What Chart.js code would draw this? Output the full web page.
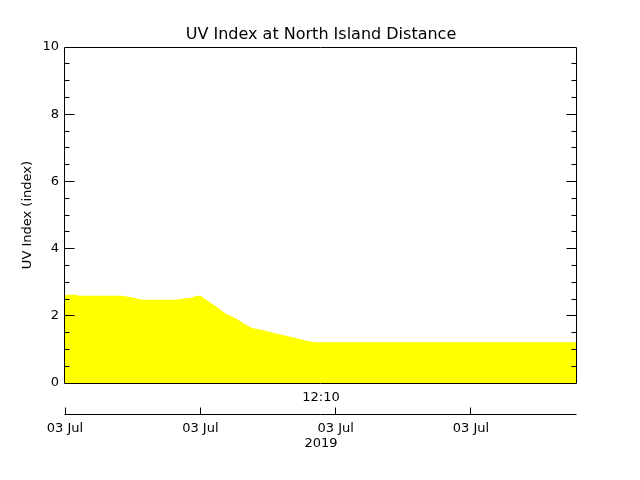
<!DOCTYPE html>
<html lang="en">
<head>
<meta charset="UTF-8">
<title>UV Index at North Island Distance</title>
<script src="https://cdn.jsdelivr.net/npm/chart.js@4.4.1/dist/chart.umd.min.js"></script>
<style>
  html, body { margin: 0; padding: 0; background: #fff; }
</style>
</head>
<body>
<canvas id="pizarra" width="640" height="480"></canvas>
<script>
// minutes after the first sample
const times = [0, 5, 6, 25, 28, 31, 34, 49, 52, 56, 58, 60, 62, 67, 71, 76, 80, 83, 88, 93, 99, 104, 108, 111, 227]
const uvIndex = [2.63, 2.63, 2.60, 2.60, 2.57, 2.53, 2.48, 2.48, 2.51, 2.54, 2.59, 2.60, 2.51, 2.28, 2.08, 1.91, 1.74, 1.64, 1.57, 1.48, 1.39, 1.31, 1.24, 1.21, 1.21]

// date axis underneath
const tickTimes = [0, 60, 120, 180]
const tickLabels = ['03 Jul', '03 Jul', '03 Jul', '03 Jul']
const timeTitle = '12:10'
const yearTitle = '2019'

const FONT = 'DejaVu Sans'
Chart.defaults.color = '#000'
Chart.defaults.font.family = FONT

// IDL-ish frame: box, inward ticks on both sides, separate date axis
const frame = {
  id: 'frame',
  afterDraw(chart) {
    const { ctx, chartArea: a, scales } = chart
    const y = scales.y, x2 = scales.x2
    const px = v => Math.floor(v) + 0.5
    const L = px(a.left - 1), R = px(a.right - 1), T = px(a.top), B = px(a.bottom)

    ctx.save()
    ctx.strokeStyle = '#000'
    ctx.lineWidth = 1
    ctx.beginPath()
    ctx.moveTo(L, T); ctx.lineTo(R, T); ctx.lineTo(R, B); ctx.lineTo(L, B); ctx.closePath()

    const majors = y.ticks.map(t => t.value)
    for (let v = y.min; v <= y.max + 1e-9; v += 0.5) {
      const isMajor = majors.some(m => Math.abs(m - v) < 1e-9)
      if (isMajor && (v === y.min || v === y.max)) continue
      const len = isMajor ? 10 : 5
      const yy = px(y.getPixelForValue(v))
      ctx.moveTo(L, yy); ctx.lineTo(L + len, yy)
      ctx.moveTo(R, yy); ctx.lineTo(R - len, yy)
    }

    const ya = px(x2.top)
    ctx.moveTo(L, ya); ctx.lineTo(R, ya)
    x2.ticks.forEach(t => {
      const xx = px(x2.getPixelForValue(t.value))
      ctx.moveTo(xx, ya); ctx.lineTo(xx, ya - 7)
    })
    ctx.stroke()
    ctx.restore()
  }
}

const g = document.getElementById('pizarra')

const myChart = new Chart(g, {
  type: 'line',
  data: {
    datasets: [{
      label: 'UV Index',
      data: times.map((t, i) => ({ x: t, y: uvIndex[i] })),
      backgroundColor: '#ffff00',
      borderWidth: 0,
      pointRadius: 0,
      fill: 'origin',
      tension: 0,
      xAxisID: 'x',
      yAxisID: 'y'
    }]
  },
  options: {
    responsive: false,
    animation: false,
    layout: { padding: { left: 0, right: 63, top: 0, bottom: 0 } },
    plugins: {
      legend: { display: false },
      tooltip: { enabled: false },
      title: {
        display: true,
        text: 'UV Index at North Island Distance',
        fullSize: false,
        color: '#000',
        font: { family: FONT, size: 16, weight: 'normal' },
        padding: { top: 25.4, bottom: 2.5 }
      }
    },
    scales: {
      y: {
        type: 'linear',
        position: 'left',
        min: 0,
        max: 10,
        afterFit: s => { s.width = 65 },
        ticks: { stepSize: 2, padding: 6, font: { family: FONT, size: 13 } },
        grid: { display: false, drawTicks: false },
        border: { display: false },
        title: {
          display: true,
          text: 'UV Index (index)',
          font: { family: FONT, size: 13 },
          padding: { top: 20, bottom: 0 }
        }
      },
      x: {
        type: 'linear',
        position: 'bottom',
        min: times[0],
        max: times[times.length - 1],
        afterFit: s => { s.height = 31.5 },
        ticks: { display: false },
        grid: { display: false, drawTicks: false },
        border: { display: false },
        title: {
          display: true,
          text: timeTitle,
          font: { family: FONT, size: 13 },
          padding: { top: 0, bottom: 9.5 }
        }
      },
      x2: {
        type: 'linear',
        position: 'bottom',
        min: times[0],
        max: times[times.length - 1],
        afterFit: s => { s.height = 65.5 },
        afterBuildTicks: s => { s.ticks = tickTimes.map(v => ({ value: v })) },
        ticks: {
          autoSkip: false,
          maxRotation: 0,
          padding: 6,
          font: { family: FONT, size: 13 },
          callback: (value, index) => tickLabels[index]
        },
        grid: { display: false, drawTicks: false },
        border: { display: false },
        title: {
          display: true,
          text: yearTitle,
          font: { family: FONT, size: 13 },
          padding: { top: 0, bottom: 29 }
        }
      }
    }
  },
  plugins: [frame]
})
</script>
</body>
</html>
